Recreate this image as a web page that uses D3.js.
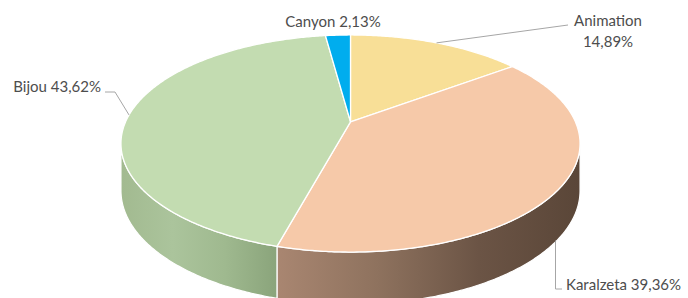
<!DOCTYPE html>
<html>
<head>
<meta charset="utf-8">
<script src="https://cdn.jsdelivr.net/npm/d3@7"></script>
<style>
  html, body { margin: 0; padding: 0; background: #fff; }
  svg { display: block; }
  text { font-family: Lato, "Open Sans", sans-serif; font-size: 15px; fill: #4d4d4d; }
</style>
</head>
<body>
<div id="chart"></div>
<script>
// data
var categories = ["Animation", "Karalzeta", "Bijou", "Canyon"];
var values = [14.89, 39.36, 43.62, 2.13];

var topColors = ["#f8df97", "#f6c9a9", "#c3dcb1", "#00adee"];
// side shading, left -> right
var sideColors = {
  "Animation": ["#c9b170", "#a89258"],
  "Karalzeta": ["#a98671", "#8e725e", "#6b5445", "#5a4638"],
  "Bijou": ["#a2ba90", "#abc49c", "#9fb98f", "#8aa47b"],
  "Canyon": ["#0090c8", "#007aa8"]
};

var WIDTH = 688, HEIGHT = 298;
var svg = d3.select("#chart").append("svg")
  .attr("width", WIDTH)
  .attr("height", HEIGHT);
var defs = svg.append("defs");

// projection of the tilted disc (a = 0 at the back, clockwise)
var CX = 350.5, CY = 121.8, RX = 224.9, RY = 104.2, K = 0.2;
function proj(a) {
  var c = Math.cos(a), s = Math.sin(a), w = 1 + K * c;
  return [CX + RX * s / w, CY - RY * c / w];
}
function depth(a) { return 46 / (1 + 0.12 * Math.cos(a)); }
function projLow(a) {
  var p = proj(a);
  return [p[0], p[1] + depth(a)];
}
function samples(a0, a1) {
  var n = Math.max(2, Math.ceil(Math.abs(a1 - a0) / 0.01));
  var s = d3.scaleLinear().domain([0, n]).range([a0, a1]);
  return d3.range(n + 1).map(s);
}

var pie = d3.pie().sort(null).value(function(d) { return d; });
var arcs = pie(values);

var line = d3.line();

// visible side goes from the left to the right silhouette through the front
var visL = Math.acos(-K), visR = 2 * Math.PI - visL;

var sides = svg.append("g");
arcs.forEach(function(d, i) {
  var s0 = Math.max(d.startAngle, visL), s1 = Math.min(d.endAngle, visR);
  if (s1 <= s0) return;
  var topPts = samples(s0, s1).map(proj);
  var lowPts = samples(s1, s0).map(projLow);
  var xs = topPts.map(function(p) { return p[0]; });
  var gid = "side" + i;
  var cols = sideColors[categories[i]];
  var g = defs.append("linearGradient")
    .attr("id", gid)
    .attr("gradientUnits", "userSpaceOnUse")
    .attr("x1", d3.min(xs)).attr("x2", d3.max(xs))
    .attr("y1", 0).attr("y2", 0);
  cols.forEach(function(c, j) {
    g.append("stop").attr("offset", j / (cols.length - 1)).attr("stop-color", c);
  });
  sides.append("path")
    .attr("d", line(topPts.concat(lowPts)) + "Z")
    .attr("fill", "url(#" + gid + ")")
    .attr("stroke", "#ffffff")
    .attr("stroke-width", 1.2)
    .attr("stroke-linejoin", "round");
});

var tops = svg.append("g");
arcs.forEach(function(d, i) {
  var pts = [[CX, CY]].concat(samples(d.startAngle, d.endAngle).map(proj));
  tops.append("path")
    .attr("d", line(pts) + "Z")
    .attr("fill", topColors[i])
    .attr("stroke", "#ffffff")
    .attr("stroke-width", 1.3)
    .attr("stroke-linejoin", "round");
});

// labels
function pct(v) { return v.toFixed(2).replace(".", ","); }
var mid = arcs.map(function(d) { return (d.startAngle + d.endAngle) / 2; });
var lead = svg.append("g")
  .attr("fill", "none")
  .attr("stroke", "#a6a6a6")
  .attr("stroke-width", 1);
var labels = svg.append("g");

// Animation
var pA = proj(mid[0]);
lead.append("path").attr("d", line([pA, [568, 25]]));
labels.append("text").attr("x", 608).attr("y", 26).attr("text-anchor", "middle").text(categories[0]);
labels.append("text").attr("x", 608).attr("y", 47).attr("text-anchor", "middle").text(pct(values[0]) + "%");

// Karalzeta
var pK = projLow(mid[1]);
var kx = 555.5;
lead.append("path").attr("d", line([[kx, pK[1] + 3], [kx, 289], [562, 289]]));
labels.append("text").attr("x", 566).attr("y", 290).text(categories[1] + " " + pct(values[1]) + "%");

// Bijou
var pB = proj(mid[2]);
lead.append("path").attr("d", line([pB, [115, 92], [105, 92]]));
labels.append("text").attr("x", 101).attr("y", 92).attr("text-anchor", "end").text(categories[2] + " " + pct(values[2]) + "%");

// Canyon
labels.append("text").attr("x", 333).attr("y", 27).attr("text-anchor", "middle").text(categories[3] + " " + pct(values[3]) + "%");
</script>
</body>
</html>
